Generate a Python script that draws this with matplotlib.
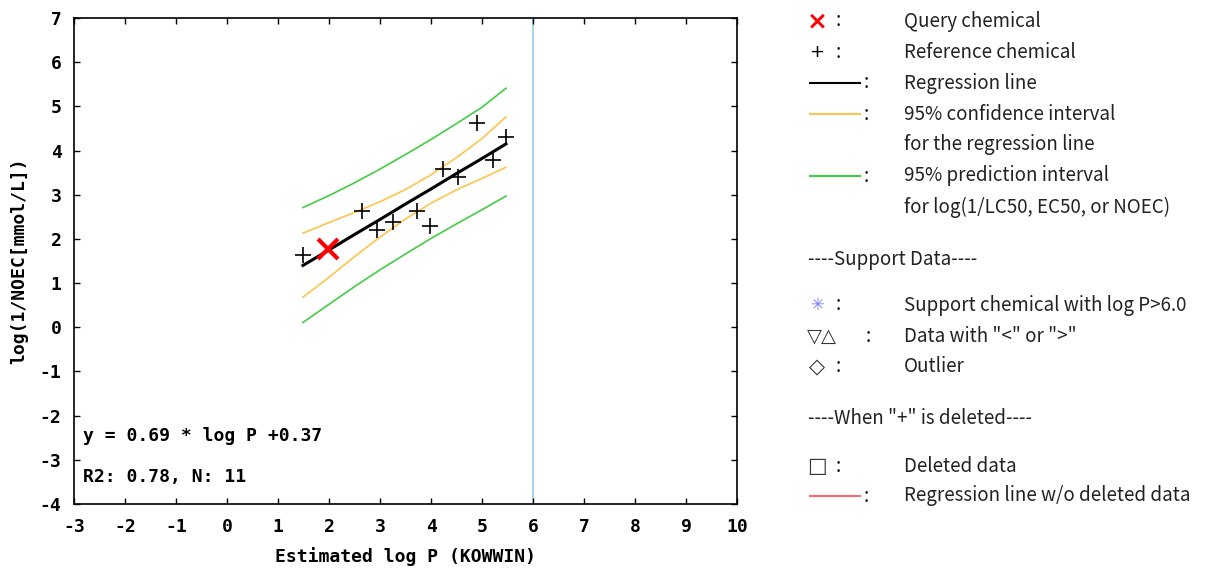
import numpy as np
import matplotlib.pyplot as plt

plt.rcParams["axes.unicode_minus"] = False

# reference chemicals
ref_logp = [1.49, 2.65, 2.94, 3.26, 3.73, 3.98, 4.24, 4.53, 4.91, 5.21, 5.47]
ref_tox = [1.64, 2.64, 2.20, 2.39, 2.64, 2.29, 3.58, 3.40, 4.62, 3.79, 4.31]

# query chemical
query_logp = [1.98]
query_tox = [1.77]

# regression line and interval curves
band_x = [1.49, 2.0, 2.5, 3.0, 3.5, 4.0, 4.5, 5.0, 5.47]
reg_y = [1.40, 1.75, 2.10, 2.44, 2.79, 3.13, 3.48, 3.82, 4.15]
ci_upper = [2.13, 2.37, 2.60, 2.84, 3.12, 3.45, 3.84, 4.27, 4.76]
ci_lower = [0.68, 1.13, 1.60, 2.04, 2.45, 2.81, 3.11, 3.37, 3.62]
pi_upper = [2.71, 2.98, 3.27, 3.58, 3.91, 4.25, 4.61, 4.98, 5.41]
pi_lower = [0.11, 0.52, 0.92, 1.30, 1.66, 2.01, 2.34, 2.66, 2.97]

slope = 0.69
intercept = 0.37
r2 = 0.78
logp_limit = 6.0

mono = "DejaVu Sans Mono"
orange = "#ffc44d"
green = "#44cc44"

fig = plt.figure(figsize=(12.06, 5.68), dpi=100)
ax = fig.add_axes([74 / 1206, 64 / 568, 663 / 1206, 486 / 568])

ax.axvline(logp_limit, color="#a8d4e6", lw=1.5, zorder=1)
ax.plot(band_x, pi_upper, color=green, lw=1.2)
ax.plot(band_x, pi_lower, color=green, lw=1.2)
ax.plot(band_x, ci_upper, color=orange, lw=1.2)
ax.plot(band_x, ci_lower, color=orange, lw=1.2)
ax.plot(band_x, reg_y, color="black", lw=2.2)
ax.plot(ref_logp, ref_tox, "+", color="black", ms=12, mew=1.2)
ax.plot(query_logp, query_tox, "x", color="red", ms=15, mew=3)

ax.set_xlim(-3, 10)
ax.set_ylim(-4, 7)
ax.set_xticks(range(-3, 11))
ax.set_yticks(range(-4, 8))
ax.tick_params(direction="in", length=4, top=True, right=True, width=1)
for lbl in ax.get_xticklabels() + ax.get_yticklabels():
    lbl.set_family(mono)
    lbl.set_weight("bold")
    lbl.set_fontsize(13)
ax.tick_params(axis="x", pad=10)
ax.tick_params(axis="y", pad=9)
for s in ax.spines.values():
    s.set_linewidth(1.2)

ax.set_xlabel("Estimated log P (KOWWIN)", family=mono, weight="bold", fontsize=13, labelpad=8)
ax.set_ylabel("log(1/NOEC[mmol/L])", family=mono, weight="bold", fontsize=13, labelpad=8)

ax.text(-2.83, -2.45, "y = %.2f * log P +%.2f" % (slope, intercept), family=mono,
        weight="bold", fontsize=13, va="center")
ax.text(-2.83, -3.4, "R2: %.2f, N: %d" % (r2, len(ref_logp)), family=mono,
        weight="bold", fontsize=13, va="center")

# legend panel on the right
lf = "Noto Sans CJK JP"
fs = 13.5
W, H = 1206, 568


def fx(px):
    return px / W


def fy(py):
    return 1 - py / H


rows = [
    (21, "x", "Query chemical"),
    (52, "+", "Reference chemical"),
    (83, "black", "Regression line"),
    (114, orange, "95% confidence interval"),
    (145, None, "for the regression line"),
    (176, green, "95% prediction interval"),
    (207, None, "for log(1/LC50, EC50, or NOEC)"),
    (305, "*", "Support chemical with log P>6.0"),
    (336, "tri", 'Data with "<" or ">"'),
    (367, "D", "Outlier"),
    (466, "s", "Deleted data"),
    (496, "#ff6b6b", "Regression line w/o deleted data"),
]
for py, sym, label in rows:
    y = fy(py)
    fig.text(fx(904), y, label, family=lf, fontsize=fs, va="center", color="#222222")
    if sym is None:
        continue
    if sym == "x":
        fig.text(fx(817), y, "\u00d7", color="red", fontsize=18, weight="bold", ha="center", va="center")
        fig.text(fx(836), y, ":", family=lf, fontsize=fs, va="center")
    elif sym == "+":
        fig.text(fx(817), y, "+", color="black", fontsize=13, ha="center", va="center")
        fig.text(fx(836), y, ":", family=lf, fontsize=fs, va="center")
    elif sym == "*":
        fig.text(fx(817), y, "\u2733", color="#7a7aff", fontsize=12, ha="center", va="center",
                 family="DejaVu Sans")
        fig.text(fx(836), y, ":", family=lf, fontsize=fs, va="center")
    elif sym == "tri":
        fig.text(fx(807), y, "\u25bd\u25b3", color="#333333", fontsize=14, va="center",
                 family="DejaVu Sans")
        fig.text(fx(866), y, ":", family=lf, fontsize=fs, va="center")
    elif sym == "D":
        fig.text(fx(817), y, "\u25c7", color="#333333", fontsize=15, ha="center", va="center",
                 family="DejaVu Sans")
        fig.text(fx(836), y, ":", family=lf, fontsize=fs, va="center")
    elif sym == "s":
        fig.text(fx(817), y, "\u25a1", color="#333333", fontsize=15, ha="center", va="center",
                 family="DejaVu Sans")
        fig.text(fx(836), y, ":", family=lf, fontsize=fs, va="center")
    else:
        fig.add_artist(plt.Line2D([fx(810), fx(860)], [y, y], color=sym, lw=1.5))
        fig.text(fx(864), y, ":", family=lf, fontsize=fs, va="center")

fig.text(fx(808), fy(259), "----Support Data----", family=lf, fontsize=fs, va="center", color="#222222")
fig.text(fx(808), fy(418), '----When "+" is deleted----', family=lf, fontsize=fs, va="center", color="#222222")

fig.savefig("out.png", dpi=100)
